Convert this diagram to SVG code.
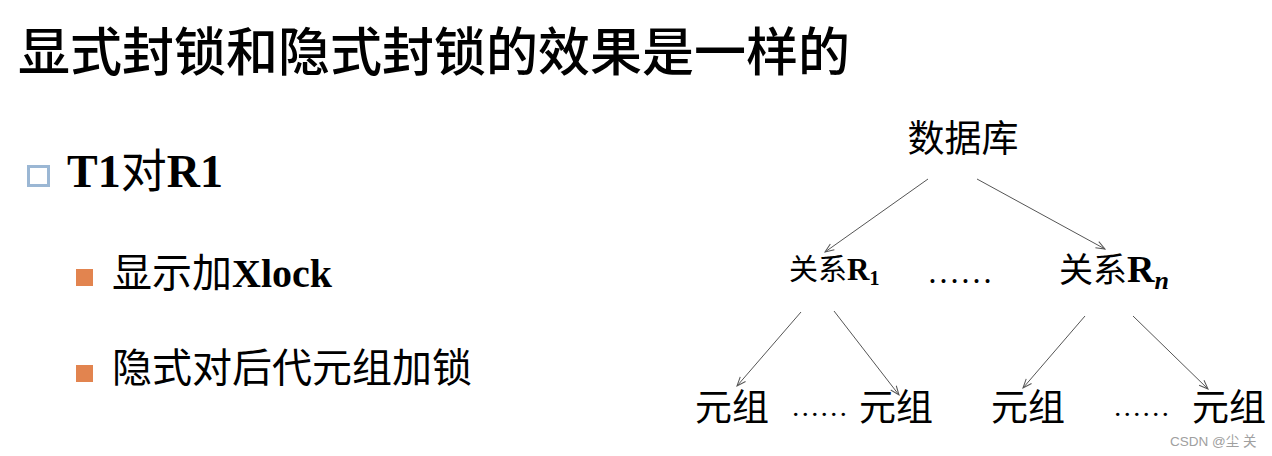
<svg xmlns="http://www.w3.org/2000/svg" width="1272" height="456" viewBox="0 0 1272 456">
<style>
.cjk{font-family:"Liberation Serif","Noto Sans CJK SC",serif;fill:#000}
.b{font-weight:bold}
.n{font-weight:normal}
.con{stroke:#555;stroke-width:1;fill:none}
.wm{font-family:"Liberation Sans","Noto Sans CJK SC",sans-serif;font-size:13.5px;fill:#a0a0a0}
</style>
<defs>
<marker id="ah" markerUnits="userSpaceOnUse" markerWidth="14" markerHeight="14" viewBox="-12 -7 14 14" refX="0" refY="0" orient="auto">
<path d="M-9,-3.5 L0,0 L-9,3.5" stroke="#555" stroke-width="1" fill="none"/>
</marker>
</defs>
<rect width="1272" height="456" fill="#fff"/>
<g id="title"><text class="cjk" x="18" y="71" font-size="52" font-weight="500">显式封锁和隐式封锁的效果是一样的</text></g>
<g id="bullet-t1">
<rect x="28.5" y="166.5" width="20" height="19" fill="none" stroke="#9bb7d4" stroke-width="3"/>
<text class="cjk b" x="67" y="187" font-size="46">T1<tspan class="n">对</tspan>R1</text>
</g>
<g id="bullet-xlock">
<rect x="76" y="269" width="17" height="17" fill="#e2844f"/>
<text class="cjk" x="112" y="287" font-size="40">显示加<tspan class="b">Xlock</tspan></text>
</g>
<g id="bullet-implicit">
<rect x="76" y="365" width="17" height="17" fill="#e2844f"/>
<text class="cjk" x="112" y="382" font-size="40">隐式对后代元组加锁</text>
</g>
<g id="node-db"><text class="cjk" x="963" y="152" font-size="37" text-anchor="middle">数据库</text></g>
<g id="node-r1"><text class="cjk" x="789" y="280" font-size="29">关系<tspan class="b" font-size="31">R</tspan><tspan class="b" font-size="20" dy="5">1</tspan></text></g>
<g id="dots-r"><text class="cjk" x="927" y="283" font-size="33" textLength="66" lengthAdjust="spacingAndGlyphs">……</text></g>
<g id="node-rn"><text class="cjk" x="1059" y="282" font-size="34"><tspan>关系</tspan><tspan class="b" font-size="38">R</tspan><tspan font-style="italic" font-weight="bold" font-size="26" dy="7">n</tspan></text></g>
<g id="node-t1"><text class="cjk" x="695" y="421" font-size="37">元组</text></g>
<g id="dots-t1"><text class="cjk" x="791" y="416" font-size="28" textLength="57" lengthAdjust="spacingAndGlyphs">……</text></g>
<g id="node-t2"><text class="cjk" x="859" y="421" font-size="37">元组</text></g>
<g id="node-t3"><text class="cjk" x="991" y="421" font-size="37">元组</text></g>
<g id="dots-t2"><text class="cjk" x="1113" y="416" font-size="28" textLength="57" lengthAdjust="spacingAndGlyphs">……</text></g>
<g id="node-t4"><text class="cjk" x="1192" y="421" font-size="37">元组</text></g>
<g id="connectors">
<line class="con" x1="928" y1="179" x2="825" y2="252" marker-end="url(#ah)"/>
<line class="con" x1="977" y1="179" x2="1105" y2="249" marker-end="url(#ah)"/>
<line class="con" x1="801" y1="312" x2="737" y2="386" marker-end="url(#ah)"/>
<line class="con" x1="834" y1="311" x2="899" y2="395" marker-end="url(#ah)"/>
<line class="con" x1="1085" y1="316" x2="1023" y2="388" marker-end="url(#ah)"/>
<line class="con" x1="1133" y1="316" x2="1208" y2="389" marker-end="url(#ah)"/>
</g>
<g id="watermark"><text class="wm" x="1170" y="446">CSDN @尘 关</text></g>
</svg>
